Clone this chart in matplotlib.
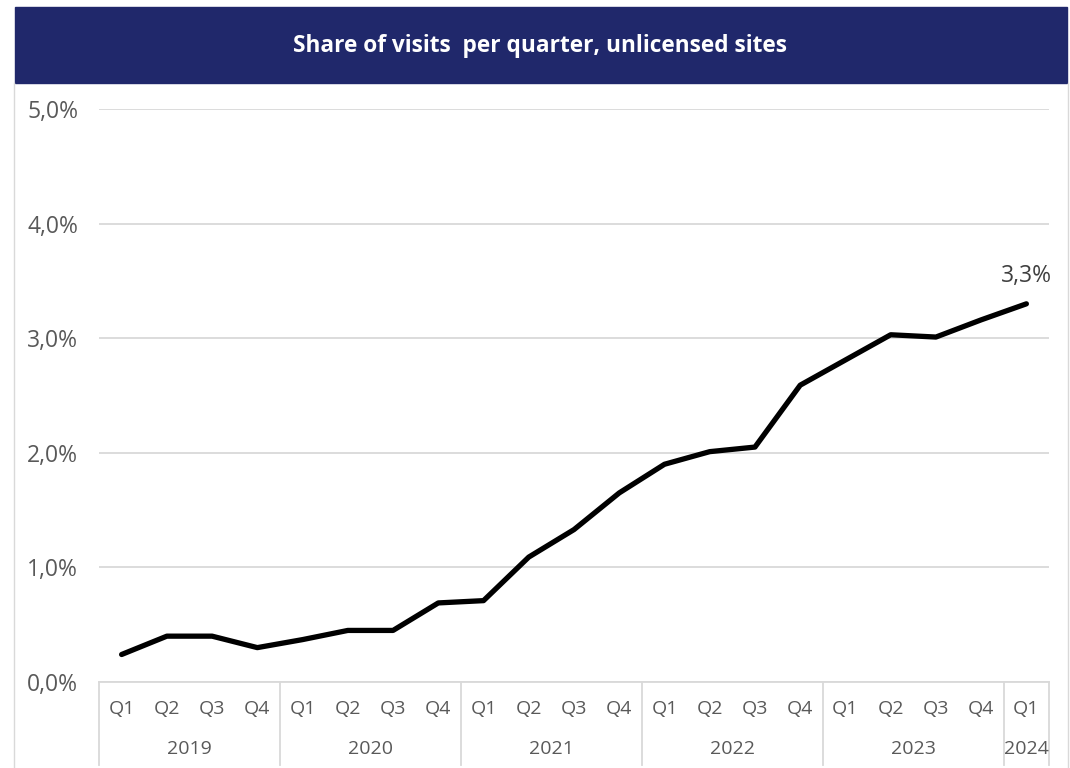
import matplotlib.pyplot as plt
import numpy as np
from matplotlib.patches import Rectangle
from matplotlib.lines import Line2D
from matplotlib.ticker import FuncFormatter

plt.rcParams.update({
    "font.family": ["Open Sans", "DejaVu Sans"],
    "font.size": 14,
})

C_NAVY = "#20286b"
C_GRID = "#d9d9d9"
C_TEXT = "#595959"

quarters = ["Q1", "Q2", "Q3", "Q4"] * 5 + ["Q1"]
years = ["2019", "2020", "2021", "2022", "2023", "2024"]
year_sizes = [4, 4, 4, 4, 4, 1]
share = [0.24, 0.40, 0.40, 0.30, 0.37, 0.45, 0.45, 0.69, 0.71, 1.09, 1.33,
         1.65, 1.90, 2.01, 2.05, 2.59, 2.81, 3.03, 3.01, 3.16, 3.30]
last_label = "3,3%"

fig = plt.figure(figsize=(10.7, 7.68), dpi=100)
ax = fig.add_axes([99/1070, 1-682/768, 950/1070, 573/768])

# banner + frame
fig.patches.append(Rectangle((15/1070, 1-83/768), 1052/1070, 76/768,
                             transform=fig.transFigure, color=C_NAVY, zorder=0))
for xf in (14/1070, 1068/1070):
    fig.lines.append(Line2D([xf, xf], [0, 1-83/768], transform=fig.transFigure,
                            color=C_GRID, linewidth=1))
fig.text(540/1070, 1-46/768, "Share of visits  per quarter, unlicensed sites",
         ha="center", va="center", color="white", fontsize=16.3, fontweight="bold")

x = np.arange(len(share))
ax.plot(x, share, color="black", linewidth=3.8, solid_joinstyle="round",
        solid_capstyle="round", zorder=3)
ax.text(x[-1], share[-1] + 0.24, last_label, ha="center", va="center",
        fontsize=16.5, color="#404040")

ax.set_xlim(-0.5, len(share) - 0.5)
ax.set_ylim(0, 5)
ax.set_yticks(np.arange(0, 5.1, 1))
ax.yaxis.set_major_formatter(FuncFormatter(lambda v, _: f"{v:.1f}%".replace(".", ",")))
ax.tick_params(axis="y", length=0, pad=15, labelcolor=C_TEXT, labelsize=16.5)
ax.set_xticks([])
ax.yaxis.grid(True, color=C_GRID, linewidth=1.3)
for s in ax.spines.values():
    s.set_visible(False)
ax.axhline(0, color=C_GRID, linewidth=1.3, clip_on=False)

# two-level category axis
trans = ax.get_xaxis_transform()
for i, q in enumerate(quarters):
    ax.text(i, -0.047, q, transform=trans, ha="center", va="center",
            fontsize=14, color=C_TEXT)
start = 0
bounds = [-0.5]
for y, n in zip(years, year_sizes):
    ax.text(start + (n - 1) / 2, -0.117, y, transform=trans, ha="center",
            va="center", fontsize=14, color=C_TEXT)
    start += n
    bounds.append(start - 0.5)
for b in bounds:
    ax.plot([b, b], [0, -0.145], transform=trans, color=C_GRID, linewidth=1.3,
            clip_on=False)

fig.savefig("out.png", dpi=100)
